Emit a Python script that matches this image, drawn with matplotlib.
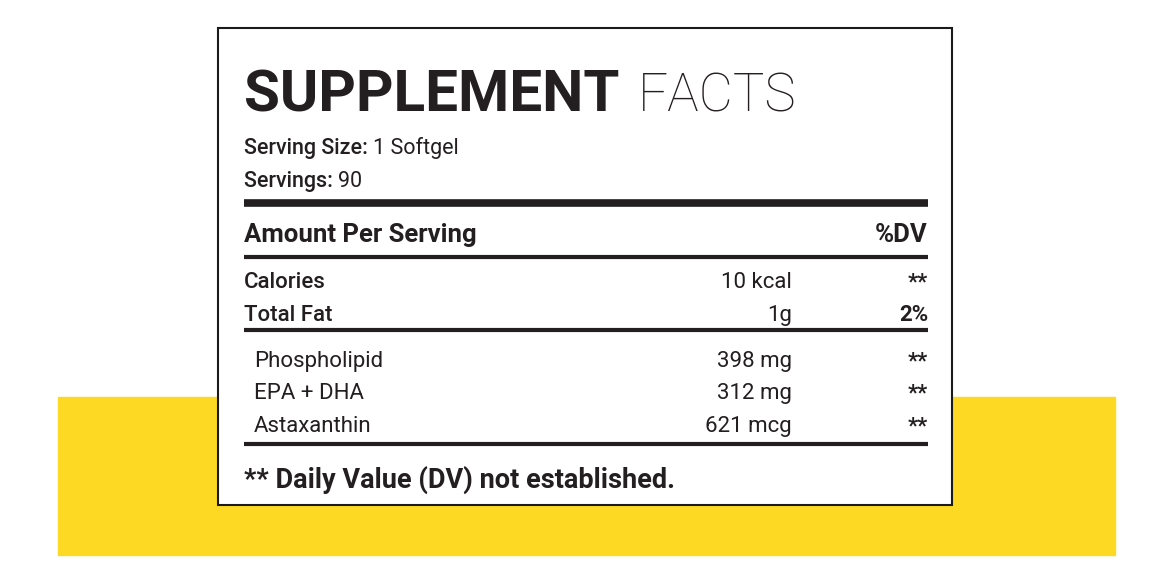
import matplotlib
matplotlib.use("Agg")
import matplotlib.pyplot as plt
from matplotlib.patches import Rectangle

title_bold = "SUPPLEMENT"
title_light = "FACTS"
serving_info = [("Serving Size:", "1 Softgel"), ("Servings:", "90")]
main_rows = ["Calories", "Total Fat"]
main_amounts = ["10 kcal", "1g"]
main_dv = ["**", "2%"]
sub_rows = ["Phospholipid", "EPA + DHA", "Astaxanthin"]
sub_amounts = ["398 mg", "312 mg", "621 mcg"]
sub_dv = ["**", "**", "**"]
footer = "** Daily Value (DV) not established."

FONT = "Roboto"
fig = plt.figure(figsize=(11.72, 5.86), dpi=100)
ax = fig.add_axes([0, 0, 1, 1])
ax.set_xlim(0, 1172); ax.set_ylim(586, 0); ax.axis("off")

ax.add_patch(Rectangle((58, 397), 1057, 158, color="#FDD923", zorder=0))
ax.add_patch(Rectangle((218, 28), 734, 477, facecolor="white", edgecolor="#1a1a1a", lw=1.5, zorder=1))

L, R, A = 244, 928, 792
ax.text(L, 112, title_bold, fontfamily=FONT, fontweight="bold", fontsize=42, color="#231f20", va="baseline", zorder=2)
ax.text(638, 112, title_light, fontfamily=FONT, fontweight="light", fontsize=38, color="#231f20", va="baseline", zorder=2)

for (lab, val), y in zip(serving_info, [154, 187]):
    t = ax.text(L, y, lab + " ", fontfamily=FONT, fontweight="medium", fontsize=15.5, color="#231f20", va="baseline", zorder=2)
    fig.canvas.draw()
    bb = t.get_window_extent()
    ax.text(L + bb.width, y, val, fontfamily=FONT, fontsize=15.5, color="#231f20", va="baseline", zorder=2)

def hline(y, lw):
    ax.plot([L, R], [y, y], color="#231f20", lw=lw, solid_capstyle="butt", zorder=2)
hline(203, 5.5); hline(257, 3); hline(330, 3); hline(444, 3)

ax.text(L, 242, "Amount Per Serving", fontfamily=FONT, fontweight="bold", fontsize=18.5, color="#231f20", va="baseline")
ax.text(R, 242, "%DV", fontfamily=FONT, fontweight="bold", fontsize=18.5, color="#231f20", va="baseline", ha="right")

for lab, amt, dv, y in zip(main_rows, main_amounts, main_dv, [288, 321]):
    ax.text(L, y, lab, fontfamily=FONT, fontweight="medium", fontsize=16, color="#231f20", va="baseline")
    ax.text(A, y, amt, fontfamily=FONT, fontsize=16, color="#231f20", va="baseline", ha="right")
    ax.text(R, y, dv, fontfamily=FONT, fontweight="bold", fontsize=16, color="#231f20", va="baseline", ha="right")

for lab, amt, dv, y in zip(sub_rows, sub_amounts, sub_dv, [367, 399, 432]):
    ax.text(254, y, lab, fontfamily=FONT, fontsize=16, color="#231f20", va="baseline")
    ax.text(A, y, amt, fontfamily=FONT, fontsize=16, color="#231f20", va="baseline", ha="right")
    ax.text(R, y, dv, fontfamily=FONT, fontweight="bold", fontsize=16, color="#231f20", va="baseline", ha="right")

ax.text(L, 488, footer, fontfamily=FONT, fontweight="bold", fontsize=19.5, color="#231f20", va="baseline")

fig.savefig("out.png", dpi=100, facecolor="white")
